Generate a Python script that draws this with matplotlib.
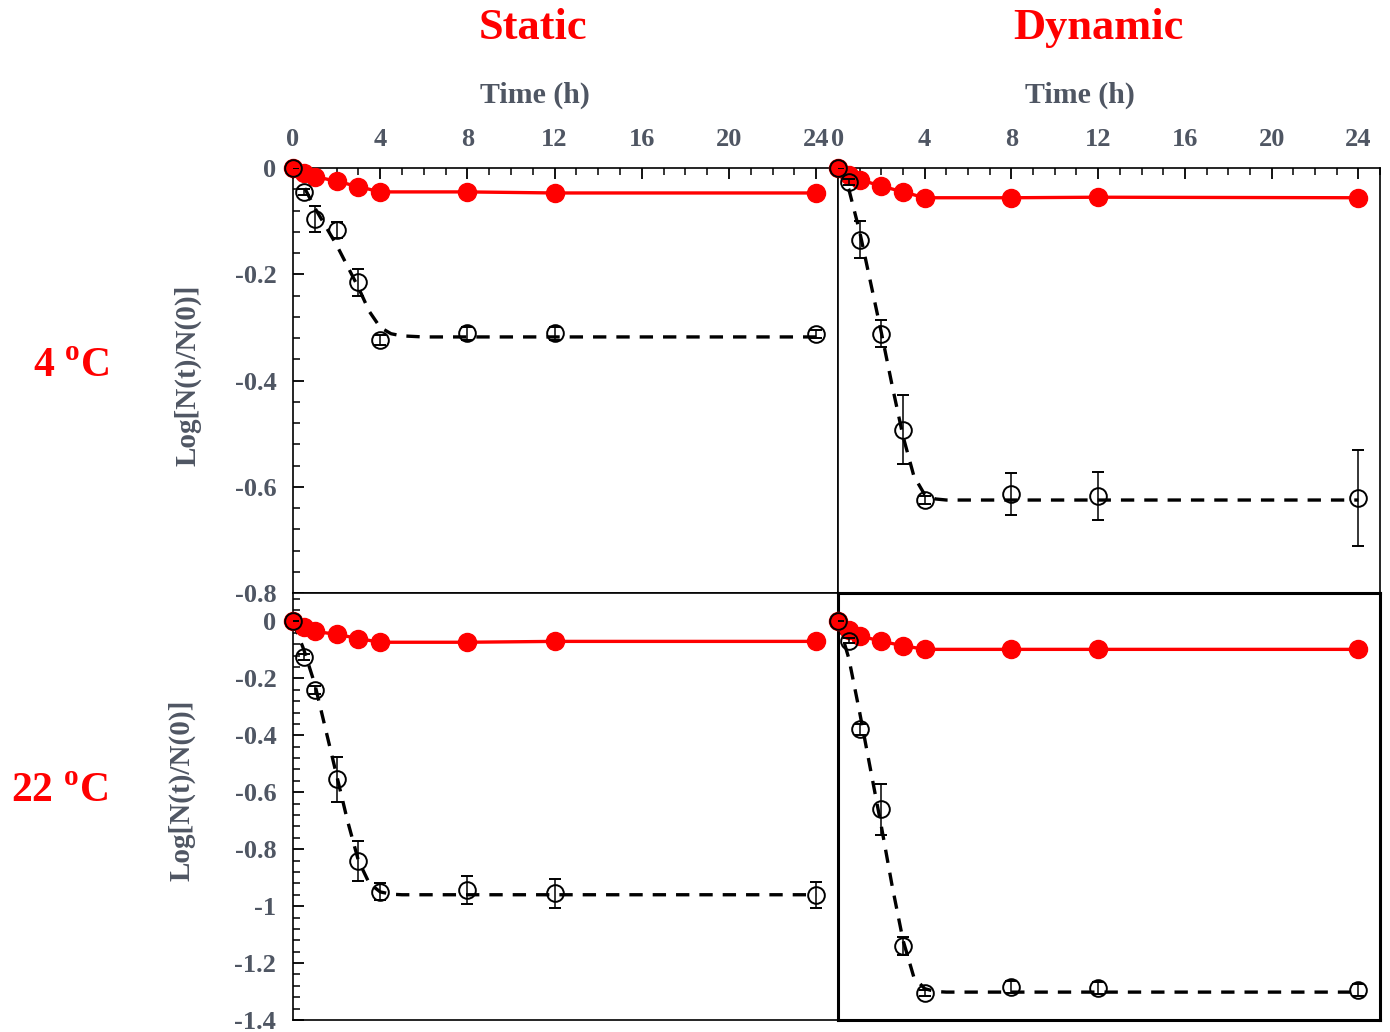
import matplotlib.pyplot as plt
from matplotlib.ticker import MultipleLocator, FuncFormatter

plt.rcParams['font.family'] = 'Liberation Serif'
plt.rcParams['font.weight'] = 'bold'
plt.rcParams['mathtext.fontset'] = 'custom'
plt.rcParams['mathtext.rm'] = 'Liberation Serif'
plt.rcParams['mathtext.bf'] = 'Liberation Serif:bold'

TICK_COLOR = '#4f5663'

# sampling times (h)
times = [0, 0.5, 1, 2, 3, 4, 8, 12, 24]
fit_times = [0, 0.5, 1, 1.5, 2, 2.5, 3, 3.5, 4, 4.5, 5, 6, 24]

# 4 C, static
red_4s = [0, -0.010, -0.016, -0.025, -0.035, -0.045, -0.045, -0.047, -0.047]
black_4s = [0, -0.045, -0.096, -0.117, -0.215, -0.324, -0.311, -0.311, -0.312]
err_4s = [0, 0.006, 0.025, 0.015, 0.025, 0.01, 0.012, 0.012, 0.008]
fit_4s = [0, -0.035, -0.075, -0.11, -0.145, -0.185, -0.225, -0.27, -0.30, -0.312, -0.316, -0.318, -0.318]

# 4 C, dynamic
red_4d = [0, -0.013, -0.022, -0.034, -0.045, -0.056, -0.056, -0.055, -0.056]
black_4d = [0, -0.026, -0.135, -0.312, -0.493, -0.625, -0.614, -0.617, -0.621]
err_4d = [0, 0.006, 0.035, 0.025, 0.065, 0.008, 0.04, 0.045, 0.09]
fit_4d = [0, -0.04, -0.12, -0.215, -0.31, -0.41, -0.505, -0.58, -0.615, -0.623, -0.625, -0.625, -0.625]

# 22 C, static
red_22s = [0, -0.020, -0.035, -0.045, -0.060, -0.073, -0.073, -0.070, -0.070]
black_22s = [0, -0.126, -0.240, -0.555, -0.842, -0.950, -0.944, -0.955, -0.960]
err_22s = [0, 0.01, 0.015, 0.08, 0.07, 0.03, 0.05, 0.05, 0.045]
fit_22s = [0, -0.10, -0.22, -0.38, -0.54, -0.70, -0.84, -0.92, -0.95, -0.958, -0.96, -0.96, -0.96]

# 22 C, dynamic
red_22d = [0, -0.030, -0.050, -0.070, -0.085, -0.098, -0.098, -0.098, -0.098]
black_22d = [0, -0.067, -0.379, -0.660, -1.140, -1.305, -1.284, -1.288, -1.295]
err_22d = [0, 0.01, 0.02, 0.09, 0.03, 0.01, 0.02, 0.02, 0.02]
fit_22d = [0, -0.13, -0.32, -0.52, -0.72, -0.93, -1.12, -1.25, -1.29, -1.30, -1.302, -1.302, -1.302]

W, H = 1390, 1032
fig = plt.figure(figsize=(W / 100, H / 100), dpi=100)


def box(x0, y0, x1, y1):
    return [x0 / W, 1 - y1 / H, (x1 - x0) / W, (y1 - y0) / H]


fmt = FuncFormatter(lambda v, _: f"{v:g}" if abs(v) > 1e-9 else "0")


def panel(rect, red, black, err, fit, ylim, show_x, show_y, spine_lw=1.2):
    ax = fig.add_axes(rect)
    ax.plot(fit_times, fit, color='k', lw=2.4, dashes=(4, 3), zorder=2)
    ax.plot(times, red, color='red', lw=2.4, marker='o', ms=13,
            mfc='red', mec='red', zorder=3, clip_on=False)
    eb = ax.errorbar(times, black, yerr=err, fmt='o', ms=12, mfc='none',
                     mec='k', mew=1.4, ecolor='k', elinewidth=1.1, capsize=4,
                     capthick=1.1, zorder=4)
    for art in eb.lines[0:1]:
        art.set_clip_on(False)
    ax.set_xlim(0, 25)
    ax.set_ylim(*ylim)
    for s in ax.spines.values():
        s.set_linewidth(spine_lw)
    ax.xaxis.tick_top()
    if show_x:
        ax.xaxis.set_major_locator(MultipleLocator(4))
        ax.xaxis.set_minor_locator(MultipleLocator(1))
        ax.tick_params(axis='x', which='both', direction='in', top=True,
                       bottom=False, labeltop=True, labelbottom=False,
                       labelsize=19, labelcolor=TICK_COLOR, pad=12)
        ax.tick_params(axis='x', which='major', length=8, width=1.3)
        ax.tick_params(axis='x', which='minor', length=5, width=1.1)
    else:
        ax.tick_params(axis='x', which='both', top=False, bottom=False,
                       labeltop=False, labelbottom=False)
    if show_y:
        ax.set_yticks([v / 10 for v in range(0, int(round(ylim[0] * 10)) - 1, -2)])
        ax.yaxis.set_minor_locator(MultipleLocator(0.04))
        ax.yaxis.set_major_formatter(fmt)
        ax.tick_params(axis='y', which='both', direction='in', left=True,
                       right=False, labelsize=19, labelcolor=TICK_COLOR, pad=12)
        ax.tick_params(axis='y', which='major', length=8, width=1.3)
        ax.tick_params(axis='y', which='minor', length=5, width=1.1)
    else:
        ax.tick_params(axis='y', which='both', left=False, right=False,
                       labelleft=False)
    return ax


panel(box(293, 168, 838, 593), red_4s, black_4s, err_4s, fit_4s,
      (-0.8, 0), True, True)
panel(box(838, 168, 1380, 593), red_4d, black_4d, err_4d, fit_4d,
      (-0.8, 0), True, False)
panel(box(293, 593, 838, 1020), red_22s, black_22s, err_22s, fit_22s,
      (-1.4, 0.1), False, True)
panel(box(838, 593, 1380, 1020), red_22d, black_22d, err_22d, fit_22d,
      (-1.4, 0.1), False, False, spine_lw=2.2)

fig.text(533 / W, 1 - 28 / H, 'Static', color='red', fontsize=32,
         fontweight='bold', ha='center', va='center')
fig.text(1098 / W, 1 - 28 / H, 'Dynamic', color='red', fontsize=32,
         fontweight='bold', ha='center', va='center')
for xc in (535, 1080):
    fig.text(xc / W, 1 - 95 / H, 'Time (h)', color=TICK_COLOR, fontsize=21.5,
             fontweight='bold', ha='center', va='center')

fig.text(71 / W, 1 - 367 / H, r'4 $^{\mathbf{o}}$C', color='red', fontsize=30,
         fontweight='bold', ha='center', va='center')
fig.text(59 / W, 1 - 792 / H, r'22 $^{\mathbf{o}}$C', color='red', fontsize=30,
         fontweight='bold', ha='center', va='center')

fig.text(188 / W, 1 - 375 / H, 'Log[N(t)/N(0)]', color=TICK_COLOR, fontsize=21,
         fontweight='bold', rotation=90, ha='center', va='center')
fig.text(182 / W, 1 - 790 / H, 'Log[N(t)/N(0)]', color=TICK_COLOR, fontsize=21,
         fontweight='bold', rotation=90, ha='center', va='center')

fig.savefig('out.png', dpi=100)
